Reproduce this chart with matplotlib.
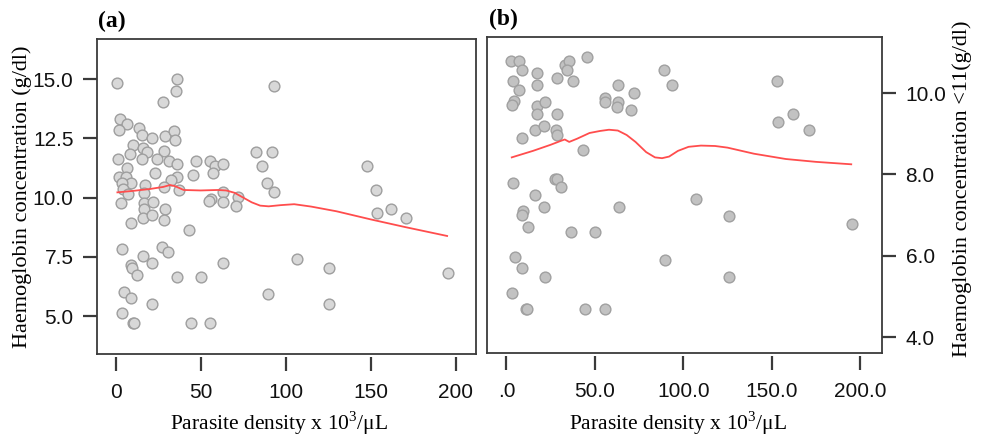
import matplotlib
matplotlib.use("Agg")
import matplotlib.pyplot as plt

# ---------------- data: panel (a) ----------------
a_x = [0.9, 35.9, 35.5, 27.6, 2.7, 6.8, 2.1, 13.7, 15.7, 21.2, 29.0, 34.3, 34.7, 10.0,
       15.9, 18.2, 8.4, 28.6, 1.2, 15.3, 24.1, 31.2, 36.2, 47.2, 55.5, 58.6, 63.3, 6.5,
       23.1, 2.1, 6.1, 9.0, 3.9, 35.9, 32.5, 45.7, 57.0, 17.2, 4.1, 7.4, 28.6, 37.4,
       16.8, 62.9, 72.1, 55.9, 63.3, 3.1, 16.8, 21.8, 70.8, 55.0, 16.8, 28.8, 16.0, 21.2,
       28.4, 9.0, 43.1, 3.5, 27.0, 30.6, 16.0, 21.2, 9.0, 9.4, 12.3, 63.3, 36.2, 50.0,
       5.1, 8.8, 21.5, 89.6, 3.5, 10.2, 10.8, 44.5, 55.5, 92.9, 82.5, 91.9, 86.1, 88.8,
       93.3, 148.0, 152.9, 153.7, 161.8, 170.8, 106.8, 125.5, 125.7, 195.5]
a_y = [14.82, 15.01, 14.50, 14.02, 13.31, 13.10, 12.85, 12.95, 12.62, 12.52, 12.61, 12.82,
       12.43, 12.23, 12.08, 11.93, 11.84, 11.95, 11.62, 11.64, 11.62, 11.54, 11.41, 11.53,
       11.54, 11.33, 11.43, 11.24, 11.02, 10.85, 10.88, 10.62, 10.62, 10.86, 10.74, 10.94,
       11.02, 10.55, 10.35, 10.14, 10.43, 10.32, 10.18, 10.22, 10.03, 9.92, 9.82, 9.75,
       9.75, 9.82, 9.64, 9.84, 9.50, 9.51, 9.12, 9.25, 9.05, 8.94, 8.62, 7.81, 7.92, 7.71,
       7.53, 7.22, 7.15, 7.01, 6.72, 7.22, 6.63, 6.63, 6.03, 5.75, 5.51, 5.93, 5.11, 4.72,
       4.72, 4.72, 4.72, 14.72, 11.92, 11.92, 11.33, 10.62, 10.22, 11.33, 10.32, 9.33,
       9.51, 9.12, 7.42, 7.03, 5.52, 6.81]
line_a_x = [1, 10, 20, 28, 32, 35, 40, 50, 60, 65, 70, 75, 80, 85, 90, 97, 105, 115,
            130, 150, 170, 195]
line_a_y = [10.22, 10.28, 10.36, 10.45, 10.53, 10.48, 10.32, 10.30, 10.32, 10.30, 10.20,
            10.00, 9.80, 9.66, 9.63, 9.68, 9.72, 9.62, 9.42, 9.08, 8.76, 8.38]

# ---------------- data: panel (b) ----------------
b_x = [2.4, 7.1, 8.8, 17.0, 3.7, 7.0, 17.0, 28.6, 33.2, 35.4, 34.3, 37.4, 45.6, 4.3,
       3.2, 17.0, 21.8, 17.0, 28.6, 16.4, 21.3, 27.9, 28.6, 8.8, 43.4, 55.8, 55.6, 63.2,
       63.2, 62.3, 72.0, 70.7, 88.9, 93.5, 3.7, 27.3, 28.6, 30.6, 16.2, 21.3, 9.2, 8.7,
       12.2, 36.4, 50.0, 63.6, 5.1, 8.7, 21.8, 89.6, 3.4, 10.8, 11.7, 44.5, 55.6,
       153.0, 161.9, 153.7, 170.9, 107.0, 125.6, 195.2, 125.8]
b_y = [10.78, 10.79, 10.58, 10.49, 10.29, 10.08, 10.19, 10.38, 10.69, 10.78, 10.57, 10.29,
       10.89, 9.81, 9.70, 9.69, 9.79, 9.48, 9.48, 9.10, 9.18, 9.10, 8.98, 8.89, 8.60, 9.89,
       9.79, 10.19, 9.79, 9.67, 10.00, 9.59, 10.58, 10.19, 7.79, 7.89, 7.89, 7.69, 7.49,
       7.20, 7.11, 7.00, 6.70, 6.59, 6.59, 7.20, 5.98, 5.69, 5.48, 5.89, 5.09, 4.70, 4.70,
       4.70, 4.70, 10.29, 9.48, 9.29, 9.09, 7.39, 6.99, 6.79, 5.48]
line_b_x = [3, 15, 25, 31, 33, 35.5, 40, 47, 53, 58, 63, 68, 73, 79, 84, 88, 92, 97, 103,
            110, 118, 125, 140, 158, 175, 195]
line_b_y = [8.42, 8.58, 8.73, 8.83, 8.86, 8.80, 8.88, 9.02, 9.07, 9.10, 9.08, 8.97, 8.80,
            8.55, 8.42, 8.40, 8.44, 8.58, 8.68, 8.71, 8.70, 8.66, 8.51, 8.38, 8.31, 8.25]

a_xticks = [0, 50, 100, 150, 200]
a_xticklabels = ["0", "50", "100", "150", "200"]
a_yticks = [5.0, 7.5, 10.0, 12.5, 15.0]
a_yticklabels = ["5.0", "7.5", "10.0", "12.5", "15.0"]
b_xticks = [0, 50, 100, 150, 200]
b_xticklabels = [".0", "50.0", "100.0", "150.0", "200.0"]
b_yticks = [4.0, 6.0, 8.0, 10.0]
b_yticklabels = ["4.0", "6.0", "8.0", "10.0"]

xlabel = "Parasite density x 10$^3$/\u03bcL"
ylabel_a = "Haemoglobin concentration (g/dl)"
ylabel_b = "Haemoglobin concentration <11(g/dl)"

# ---------------- styling ----------------
plt.rcParams['mathtext.fontset'] = 'custom'
plt.rcParams['mathtext.rm'] = 'Liberation Serif'
tick_font = ['Liberation Sans Narrow', 'Liberation Sans', 'DejaVu Sans']
serif = ['Liberation Serif', 'DejaVu Serif']
frame_col = '#3a3a3a'
red = '#ff4d4d'

fig = plt.figure(figsize=(9.84, 4.38), dpi=100)
axA = fig.add_axes([97/984, 1-354/438, 379/984, 315/438])
axB = fig.add_axes([487/984, 1-353/438, 395/984, 316/438])


def style(ax, side):
    for s in ['top', 'left', 'right']:
        ax.spines[s].set_color(frame_col)
        ax.spines[s].set_linewidth(1.3)
    ax.spines['bottom'].set_position(('outward', 2))
    ax.spines['bottom'].set_visible(False)
    ax.plot([0, 1], [0, 0], transform=ax.transAxes, color=frame_col, lw=1.3,
            clip_on=False, zorder=5)
    ax.tick_params(axis='x', length=10, width=1.6, color=frame_col, pad=9,
                   labelsize=15, labelcolor='#111111')
    ax.tick_params(axis='y', length=10, width=1.6, color=frame_col, pad=7,
                   labelsize=15, labelcolor='#111111')
    if side == 'right':
        ax.yaxis.tick_right()
        ax.yaxis.set_label_position('right')
    for lab in ax.get_xticklabels() + ax.get_yticklabels():
        lab.set_family(tick_font)


# panel (a)
axA.scatter(a_x, a_y, s=60, facecolor='#d8d8d8', edgecolor='#9e9e9e', linewidth=1.0,
            zorder=3)
axA.plot(line_a_x, line_a_y, color=red, lw=1.3, zorder=4)
axA.set_xlim(-11, 212)
axA.set_ylim(3.40, 16.69)
axA.set_xticks(a_xticks)
axA.set_xticklabels(a_xticklabels)
axA.set_yticks(a_yticks)
axA.set_yticklabels(a_yticklabels)
style(axA, 'left')

# panel (b)
axB.scatter(b_x, b_y, s=60, facecolor='#c2c2c2', edgecolor='#a0a0a0', linewidth=1.0,
            zorder=3)
axB.plot(line_b_x, line_b_y, color=red, lw=1.3, zorder=4)
axB.set_xlim(-11, 212.4)
axB.set_ylim(3.61, 11.38)
axB.set_xticks(b_xticks)
axB.set_xticklabels(b_xticklabels)
axB.set_yticks(b_yticks)
axB.set_yticklabels(b_yticklabels)
style(axB, 'right')

# labels
fig.text(279/984, 1-423/438, xlabel, ha='center', va='center', family=serif, fontsize=15.5)
fig.text(678/984, 1-423/438, xlabel, ha='center', va='center', family=serif, fontsize=15.5)
fig.text(22/984, 1-197/438, ylabel_a, ha='center', va='center', rotation=90,
         family=serif, fontsize=16)
fig.text(962/984, 1-189/438, ylabel_b, ha='center', va='center', rotation=90,
         family=serif, fontsize=16)
fig.text(112/984, 1-21/438, "(a)", ha='center', va='center', family=serif,
         fontsize=17, fontweight='bold')
fig.text(503/984, 1-19/438, "(b)", ha='center', va='center', family=serif,
         fontsize=17, fontweight='bold')

fig.savefig("out.png", dpi=100)
